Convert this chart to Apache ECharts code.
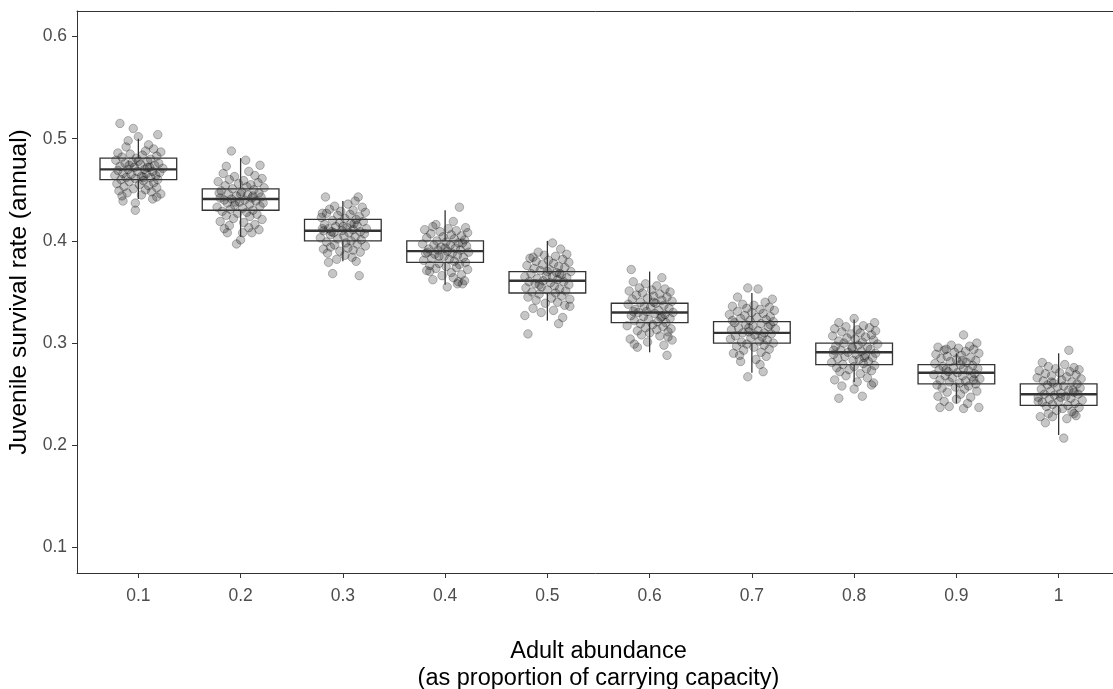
<!DOCTYPE html>
<html>
<head>
<meta charset="utf-8">
<script src="https://cdn.jsdelivr.net/npm/echarts@6/dist/echarts.min.js"></script>
<style>
html,body{margin:0;padding:0;background:#fff;}
#chart{width:1113px;height:689px;}
</style>
</head>
<body>
<div id="chart"></div>
<script>
// ---- Data ----
const abundance = [0.1, 0.2, 0.3, 0.4, 0.5, 0.6, 0.7, 0.8, 0.9, 1.0];
const tickLabels = ["0.1", "0.2", "0.3", "0.4", "0.5", "0.6", "0.7", "0.8", "0.9", "1"];
const yTicks = [0.1, 0.2, 0.3, 0.4, 0.5, 0.6];
const yTickLabels = ["0.1", "0.2", "0.3", "0.4", "0.5", "0.6"];

const whiskerLow  = [0.441, 0.404, 0.380, 0.357, 0.322, 0.291, 0.271, 0.262, 0.241, 0.210];
const q1          = [0.460, 0.430, 0.400, 0.379, 0.349, 0.320, 0.300, 0.279, 0.260, 0.239];
const median      = [0.470, 0.441, 0.410, 0.390, 0.361, 0.330, 0.310, 0.291, 0.271, 0.250];
const q3          = [0.481, 0.451, 0.421, 0.400, 0.370, 0.339, 0.321, 0.300, 0.279, 0.260];
const whiskerHigh = [0.500, 0.481, 0.439, 0.430, 0.400, 0.370, 0.349, 0.323, 0.290, 0.290];

// jittered simulation points: [horizontal jitter (in category units), survival]
const points01 = [[-0.18,.515],[-0.05,.510],[0.0,.502],[0.19,.504],[-0.10,.498],[-0.03,.430],[-0.03,.437],[-0.15,.439],[0.14,.441],[0.18,.443],
[-0.12,.492],[0.10,.494],[0.15,.490],[0.07,.488],[-0.20,.486],[0.22,.487],[-0.08,.485],[0.04,.484],[0.18,.483],[-0.16,.482],
[-0.02,.481],[0.12,.480],[-0.22,.479],[0.09,.478],[-0.06,.477],[0.20,.476],[-0.13,.476],[0.02,.475],[0.16,.474],[-0.18,.473],
[-0.04,.472],[0.11,.472],[0.24,.471],[-0.10,.470],[0.06,.470],[-0.20,.469],[0.14,.468],[-0.01,.468],[0.21,.467],[-0.15,.466],
[0.08,.466],[-0.07,.465],[0.17,.464],[-0.23,.464],[0.03,.463],[-0.12,.462],[0.12,.462],[-0.03,.461],[0.19,.460],[-0.17,.460],
[0.05,.459],[-0.09,.458],[0.15,.457],[-0.21,.456],[0.01,.455],[0.10,.454],[-0.14,.453],[0.18,.452],[-0.05,.451],[0.07,.450],
[-0.19,.449],[0.13,.448],[-0.11,.447],[0.22,.446],[0.03,.445],[-0.16,.444],[0.09,.472],[-0.09,.474],[0.00,.478],[0.05,.462]];
const points02 = [[-0.09,.488],[0.05,.479],[0.19,.474],[-0.14,.473],[-0.04,.397],[-0.13,.408],[0.02,.408],[0.11,.408],[0.0,.401],
[0.08,.468],[-0.17,.466],[0.14,.464],[-0.06,.463],[0.21,.461],[-0.11,.460],[0.03,.459],[-0.22,.458],[0.17,.457],[-0.02,.456],
[0.10,.455],[-0.15,.454],[0.06,.453],[0.23,.452],[-0.08,.451],[0.13,.450],[-0.19,.449],[0.01,.448],[0.18,.447],[-0.12,.446],
[0.07,.445],[-0.04,.444],[0.20,.443],[-0.20,.442],[0.11,.442],[-0.09,.441],[0.04,.440],[-0.16,.440],[0.15,.439],[-0.01,.438],
[0.22,.437],[-0.13,.437],[0.09,.436],[-0.06,.435],[0.19,.434],[-0.23,.433],[0.02,.432],[-0.10,.431],[0.12,.430],[-0.18,.429],
[0.06,.428],[-0.03,.427],[0.16,.426],[-0.14,.425],[0.09,.424],[-0.07,.422],[0.21,.421],[-0.20,.419],[0.03,.418],[0.14,.416],
[-0.11,.415],[0.08,.413],[-0.16,.412],[0.18,.411],[0.00,.446],[-0.05,.438],[0.12,.444],[-0.21,.447]];
const points03 = [[-0.17,.443],[0.15,.443],[0.12,.439],[-0.20,.427],[-0.10,.368],[0.16,.366],[-0.14,.379],[-0.19,.392],
[0.05,.436],[-0.08,.434],[0.19,.433],[-0.13,.431],[0.10,.430],[-0.02,.429],[0.22,.428],[-0.16,.427],[0.07,.426],[-0.05,.425],
[0.16,.424],[-0.21,.423],[0.02,.422],[0.13,.421],[-0.10,.420],[0.20,.419],[-0.03,.418],[0.08,.417],[-0.18,.416],[0.14,.415],
[-0.07,.414],[0.04,.413],[0.23,.412],[-0.14,.412],[0.10,.411],[-0.01,.410],[-0.19,.410],[0.17,.409],[-0.09,.408],[0.06,.408],
[0.21,.407],[-0.12,.406],[0.01,.405],[0.12,.404],[-0.22,.403],[-0.05,.402],[0.18,.401],[0.08,.400],[-0.16,.399],[0.03,.398],
[0.14,.397],[-0.08,.396],[0.22,.395],[-0.12,.394],[0.05,.393],[0.10,.391],[-0.03,.390],[0.17,.389],[-0.15,.388],[0.02,.386],
[0.09,.384],[-0.06,.382],[0.13,.380],[-0.20,.412],[0.00,.414],[0.11,.417],[-0.11,.409]];
const points04 = [[0.14,.433],[0.08,.419],[-0.09,.416],[0.20,.413],[-0.15,.370],[0.02,.355],[0.12,.358],[0.17,.358],
[-0.12,.414],[0.03,.412],[-0.20,.411],[0.11,.410],[-0.05,.409],[0.22,.408],[-0.14,.407],[0.06,.406],[0.16,.405],[-0.02,.404],
[-0.18,.403],[0.09,.402],[0.19,.401],[-0.08,.400],[0.01,.399],[0.13,.398],[-0.22,.397],[-0.11,.396],[0.05,.396],[0.21,.395],
[-0.04,.394],[0.10,.393],[-0.16,.392],[0.15,.391],[-0.07,.391],[0.02,.390],[0.23,.389],[-0.19,.388],[0.07,.388],[-0.10,.387],
[0.12,.386],[-0.01,.385],[0.18,.384],[-0.13,.383],[0.04,.382],[-0.21,.381],[0.09,.380],[0.20,.379],[-0.06,.378],[0.14,.377],
[-0.15,.376],[0.01,.375],[0.11,.374],[-0.09,.373],[0.22,.372],[-0.18,.371],[0.06,.369],[0.16,.367],[-0.03,.366],[0.08,.364],
[-0.12,.362],[0.19,.361],[0.13,.360],[-0.06,.385],[0.00,.393],[0.17,.398],[-0.17,.389]];
const points05 = [[0.05,.398],[-0.14,.384],[-0.19,.309],[0.11,.319],[0.22,.336],[-0.06,.330],
[0.13,.392],[-0.09,.389],[0.19,.387],[-0.03,.386],[0.08,.385],[-0.17,.383],[0.15,.382],[0.01,.381],[-0.11,.380],[0.21,.379],
[0.06,.378],[-0.05,.377],[-0.20,.376],[0.11,.375],[0.17,.374],[-0.13,.373],[0.02,.372],[-0.07,.371],[0.23,.370],[0.09,.369],
[-0.16,.368],[0.14,.367],[-0.01,.366],[-0.22,.365],[0.05,.365],[0.19,.364],[-0.10,.363],[0.10,.362],[-0.04,.361],[-0.18,.360],
[0.16,.360],[0.03,.359],[-0.12,.358],[0.21,.357],[0.07,.356],[-0.06,.355],[-0.21,.354],[0.12,.353],[0.00,.352],[0.18,.351],
[-0.15,.350],[0.08,.349],[-0.08,.348],[0.14,.346],[-0.19,.345],[0.04,.344],[0.22,.343],[-0.11,.342],[0.10,.340],[-0.02,.339],
[0.17,.337],[-0.14,.334],[0.06,.332],[-0.22,.327],[0.15,.325],[0.00,.370],[-0.08,.357],[0.12,.368]];
const points06 = [[-0.18,.372],[0.12,.364],[-0.16,.360],[0.17,.288],[-0.19,.304],[-0.15,.299],[0.18,.306],
[-0.04,.358],[0.07,.356],[-0.10,.354],[0.15,.353],[0.02,.352],[-0.20,.351],[0.20,.350],[-0.07,.349],[0.10,.348],[-0.13,.347],
[0.04,.346],[0.17,.345],[-0.02,.344],[-0.17,.343],[0.12,.342],[0.22,.341],[-0.09,.340],[0.06,.339],[-0.21,.338],[0.14,.337],
[-0.05,.336],[0.01,.335],[0.19,.334],[-0.14,.333],[0.09,.332],[-0.03,.331],[0.23,.330],[-0.11,.330],[0.05,.329],[0.15,.328],
[-0.18,.327],[-0.06,.326],[0.11,.325],[0.20,.324],[-0.01,.323],[-0.15,.322],[0.08,.321],[0.16,.320],[-0.09,.319],[0.03,.318],
[-0.22,.317],[0.13,.316],[-0.04,.315],[0.21,.314],[0.07,.313],[-0.12,.312],[0.18,.311],[0.00,.310],[-0.08,.308],[0.10,.307],
[0.22,.303],[-0.02,.301],[0.14,.298],[-0.12,.296],[0.04,.340],[-0.16,.331],[0.12,.326]];
const points07 = [[-0.04,.354],[0.06,.353],[0.20,.343],[-0.14,.345],[-0.04,.267],[0.11,.272],[-0.12,.288],
[0.13,.340],[-0.09,.338],[0.02,.337],[-0.19,.336],[0.17,.335],[-0.05,.334],[0.08,.333],[0.22,.332],[-0.14,.331],[0.00,.330],
[0.11,.329],[-0.22,.328],[-0.07,.327],[0.18,.326],[0.05,.325],[-0.11,.324],[0.14,.323],[-0.02,.322],[0.21,.321],[-0.17,.320],
[0.09,.319],[-0.06,.318],[0.01,.317],[0.16,.316],[-0.13,.315],[0.23,.314],[-0.20,.313],[0.06,.312],[-0.03,.311],[0.12,.310],
[-0.09,.310],[0.19,.309],[0.03,.308],[-0.16,.307],[0.10,.306],[-0.01,.305],[-0.21,.304],[0.15,.303],[0.07,.302],[-0.10,.301],
[0.21,.300],[-0.05,.299],[0.12,.298],[-0.15,.297],[0.02,.296],[0.17,.294],[-0.08,.293],[0.09,.291],[-0.18,.290],[0.14,.287],
[0.04,.284],[-0.11,.282],[0.08,.279],[-0.03,.315],[0.18,.318],[-0.19,.322]];
const points08 = [[0.00,.324],[-0.15,.320],[0.20,.320],[-0.15,.246],[0.08,.248],[0.00,.255],[0.17,.259],
[0.09,.317],[-0.08,.316],[0.15,.315],[-0.19,.314],[0.03,.313],[0.21,.312],[-0.12,.311],[0.06,.310],[-0.03,.309],[0.17,.308],
[-0.21,.307],[0.11,.306],[-0.07,.305],[0.01,.304],[0.19,.303],[-0.15,.302],[0.08,.301],[-0.10,.300],[0.23,.299],[0.04,.298],
[-0.18,.297],[0.13,.296],[-0.02,.295],[0.16,.294],[-0.13,.293],[0.07,.292],[-0.06,.291],[0.21,.290],[-0.20,.289],[0.02,.289],
[0.11,.288],[-0.09,.287],[0.18,.286],[-0.16,.285],[0.05,.284],[-0.01,.283],[0.14,.282],[-0.22,.281],[0.09,.280],[-0.11,.279],
[0.20,.278],[0.00,.277],[-0.17,.276],[0.12,.275],[-0.05,.274],[0.17,.273],[-0.14,.272],[0.06,.270],[-0.08,.268],[0.13,.266],
[-0.19,.264],[0.03,.262],[0.19,.261],[-0.12,.258],[-0.02,.296],[0.10,.286],[-0.20,.293]];
const points09 = [[0.07,.308],[0.20,.300],[-0.10,.294],[-0.16,.237],[-0.07,.238],[0.07,.236],[0.22,.237],
[-0.05,.298],[0.13,.297],[-0.18,.296],[0.02,.295],[0.17,.294],[-0.12,.293],[0.09,.292],[-0.02,.291],[0.22,.290],[-0.20,.289],
[0.05,.288],[-0.09,.287],[0.14,.286],[-0.15,.285],[0.00,.284],[0.19,.283],[-0.06,.282],[0.10,.281],[-0.21,.280],[0.04,.279],
[0.16,.278],[-0.13,.277],[-0.03,.276],[0.21,.275],[0.07,.275],[-0.17,.274],[0.12,.273],[-0.08,.272],[0.01,.271],[0.18,.270],
[-0.22,.269],[-0.11,.268],[0.06,.268],[0.15,.267],[-0.04,.266],[0.23,.265],[-0.16,.264],[0.09,.263],[-0.07,.262],[0.03,.261],
[0.19,.260],[-0.19,.259],[0.12,.258],[-0.01,.257],[-0.14,.256],[0.08,.255],[0.20,.253],[-0.09,.252],[0.04,.250],[-0.18,.248],
[0.14,.247],[0.00,.245],[-0.12,.243],[0.11,.241],[0.06,.283],[-0.10,.274],[0.17,.264]];
const points10 = [[0.10,.293],[-0.16,.281],[0.05,.207],[-0.18,.228],[-0.13,.222],[-0.06,.228],[0.15,.231],
[0.06,.279],[-0.10,.277],[0.15,.276],[-0.03,.275],[0.20,.274],[-0.19,.273],[0.11,.272],[0.01,.271],[-0.13,.270],[0.17,.269],
[-0.07,.268],[0.08,.267],[-0.21,.266],[0.22,.265],[0.03,.264],[-0.15,.263],[0.13,.262],[-0.05,.261],[0.18,.260],[-0.11,.259],
[0.05,.258],[-0.01,.257],[0.21,.256],[-0.17,.255],[0.10,.254],[-0.08,.253],[0.15,.252],[0.02,.251],[-0.14,.250],[0.19,.250],
[-0.04,.249],[0.07,.248],[-0.20,.247],[0.12,.246],[-0.09,.245],[0.23,.244],[0.00,.243],[-0.16,.242],[0.16,.241],[-0.06,.240],
[0.09,.239],[-0.12,.238],[0.20,.237],[0.04,.236],[-0.02,.234],[0.13,.233],[-0.10,.231],[0.17,.229],[0.08,.226],[-0.20,.243],
[0.14,.254],[-0.07,.262],[0.02,.247]];

const pointGroups = [points01, points02, points03, points04, points05, points06, points07, points08, points09, points10];

// ---- Build series data ----
const categoryStep = 0.1; // spacing between abundance levels on the axis
const scatterData = [];
pointGroups.forEach((grp, i) => {
  grp.forEach(([dx, y]) => scatterData.push([abundance[i] + dx * categoryStep, y]));
});
const boxData = abundance.map((a, i) => [a, whiskerLow[i], q1[i], median[i], q3[i], whiskerHigh[i]]);

const LINE = '#333333';
const FONT = 'Liberation Sans, Arial, sans-serif';
const chart = echarts.init(document.getElementById('chart'), null, {renderer: 'canvas'});

const option = {
  animation: false,
  grid: {
    left: 77, right: -7, top: 11, bottom: 116,
    containLabel: false,
    outerBoundsMode: 'none',
    show: false
  },
  xAxis: [{
    type: 'value',
    min: 0.04, max: 1.06,
    name: 'Adult abundance\n(as proportion of carrying capacity)',
    nameLocation: 'middle',
    nameGap: 65,
    nameTextStyle: {fontFamily: FONT, fontSize: 23.5, color: '#000', lineHeight: 27},
    axisLine: {show: true, onZero: false, lineStyle: {color: LINE, width: 1}},
    axisTick: {show: true, length: 5, lineStyle: {color: LINE}, customValues: abundance},
    axisLabel: {
      show: true, margin: 14, color: '#4D4D4D', fontSize: 17.5,
      fontFamily: FONT,
      customValues: abundance,
      formatter: v => { const i = abundance.findIndex(a => Math.abs(a - v) < 1e-6); return i >= 0 ? tickLabels[i] : ''; }
    },
    splitLine: {show: false}
  }, {
    // top edge of the panel frame
    type: 'value',
    position: 'top',
    min: 0.04, max: 1.06,
    axisLine: {show: true, onZero: false, lineStyle: {color: LINE, width: 1}},
    axisTick: {show: false},
    axisLabel: {show: false},
    splitLine: {show: false}
  }],
  yAxis: {
    type: 'value',
    min: 0.075, max: 0.625,
    name: 'Juvenile survival rate (annual)',
    nameLocation: 'middle',
    nameGap: 42,
    nameTextStyle: {fontFamily: FONT, fontSize: 24.5, color: '#000'},
    axisLine: {show: true, onZero: false, lineStyle: {color: LINE, width: 1}},
    axisTick: {show: true, length: 5, lineStyle: {color: LINE}, customValues: yTicks},
    axisLabel: {
      show: true, margin: 10, color: '#4D4D4D', fontSize: 17.5,
      fontFamily: FONT,
      customValues: yTicks,
      formatter: v => { const i = yTicks.findIndex(a => Math.abs(a - v) < 1e-6); return i >= 0 ? yTickLabels[i] : ''; }
    },
    splitLine: {show: false}
  },
  series: [
    {
      type: 'scatter',
      xAxisIndex: 0,
      data: scatterData,
      symbol: 'circle',
      symbolSize: 8.5,
      itemStyle: {color: 'rgba(0,0,0,0.28)', borderColor: 'rgba(0,0,0,0.4)', borderWidth: 0.8},
      z: 2
    },
    {
      type: 'custom',
      xAxisIndex: 0,
      data: boxData,
      encode: {x: 0, y: [1, 2, 3, 4, 5]},
      z: 3,
      renderItem: function (params, api) {
        const x = api.value(0);
        const pLo = api.coord([x, api.value(1)]);
        const pQ1 = api.coord([x, api.value(2)]);
        const pMed = api.coord([x, api.value(3)]);
        const pQ3 = api.coord([x, api.value(4)]);
        const pHi = api.coord([x, api.value(5)]);
        const halfW = api.size([0.075, 0])[0] / 2;
        const cx = pMed[0];
        const stroke = {stroke: LINE, lineWidth: 1.3, fill: null};
        return {
          type: 'group',
          children: [
            {type: 'line', shape: {x1: cx, y1: pHi[1], x2: cx, y2: pQ3[1]}, style: stroke},
            {type: 'line', shape: {x1: cx, y1: pQ1[1], x2: cx, y2: pLo[1]}, style: stroke},
            {type: 'rect', shape: {x: cx - halfW, y: pQ3[1], width: 2 * halfW, height: pQ1[1] - pQ3[1]}, style: {stroke: LINE, lineWidth: 1.3, fill: 'rgba(255,255,255,0)'}},
            {type: 'line', shape: {x1: cx - halfW, y1: pMed[1], x2: cx + halfW, y2: pMed[1]}, style: {stroke: LINE, lineWidth: 2.4}}
          ]
        };
      }
    }
  ]
};
chart.setOption(option);
</script>
</body>
</html>
